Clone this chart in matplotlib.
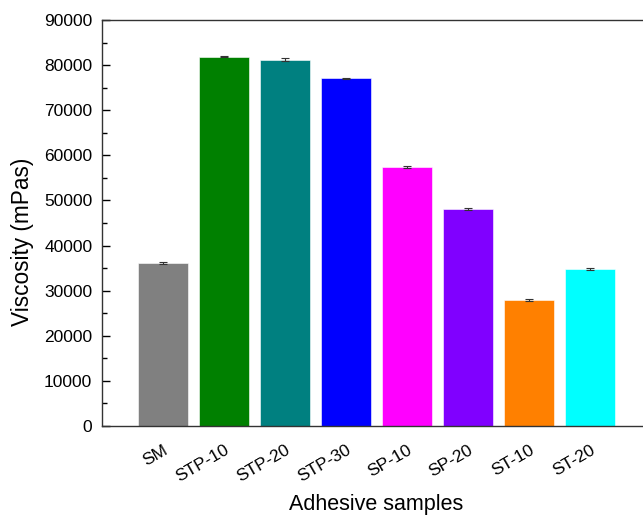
import matplotlib.pyplot as plt
from matplotlib.ticker import MultipleLocator

plt.rcParams['font.family'] = ['Liberation Sans', 'DejaVu Sans']

samples = ["SM", "STP-10", "STP-20", "STP-30", "SP-10", "SP-20", "ST-10", "ST-20"]
viscosity = [36100, 81900, 81200, 77100, 57400, 48100, 28000, 34800]
errors = [150, 120, 350, 150, 150, 180, 200, 180]
colors = ["#808080", "#008000", "#008080", "#0000FF",
          "#FF00FF", "#8000FF", "#FF8000", "#00FFFF"]


def main():
    W, H = 643, 515
    fig = plt.figure(figsize=(W / 100, H / 100), dpi=100)
    ax = fig.add_axes([102 / W, 1 - 426 / H, 1 - 102 / W, (426 - 20) / H])

    x = range(len(samples))
    ax.bar(x, viscosity, width=0.82, color=colors, edgecolor="white", linewidth=0.4,
           yerr=errors, error_kw=dict(ecolor="#333333", elinewidth=0.8, capsize=3, capthick=0.8))

    ax.set_xlim(-1, 7.87)
    ax.set_ylim(0, 90000)
    ax.yaxis.set_major_locator(MultipleLocator(10000))
    ax.yaxis.set_minor_locator(MultipleLocator(5000))
    ax.tick_params(axis="y", which="major", direction="in", length=6, width=1, pad=7, labelsize=12.5)
    ax.tick_params(axis="y", which="minor", direction="in", length=3.5, width=1)
    ax.set_xticks(list(x))
    ax.set_xticklabels(samples, rotation=30, ha="right", rotation_mode="anchor", fontsize=12.5)
    ax.tick_params(axis="x", length=0, pad=12)

    for side in ["left", "bottom", "top"]:
        ax.spines[side].set_linewidth(1.0)
        ax.spines[side].set_color("#333333")
    ax.spines["right"].set_visible(False)

    fig.text(23 / W, 1 - 242 / H, "Viscosity (mPas)", rotation=90,
             ha="center", va="center", fontsize=16.3)
    fig.text(376 / W, 1 - 510 / H, "Adhesive samples",
             ha="center", va="baseline", fontsize=15.5)

    fig.savefig("out.png", dpi=100)


main()
